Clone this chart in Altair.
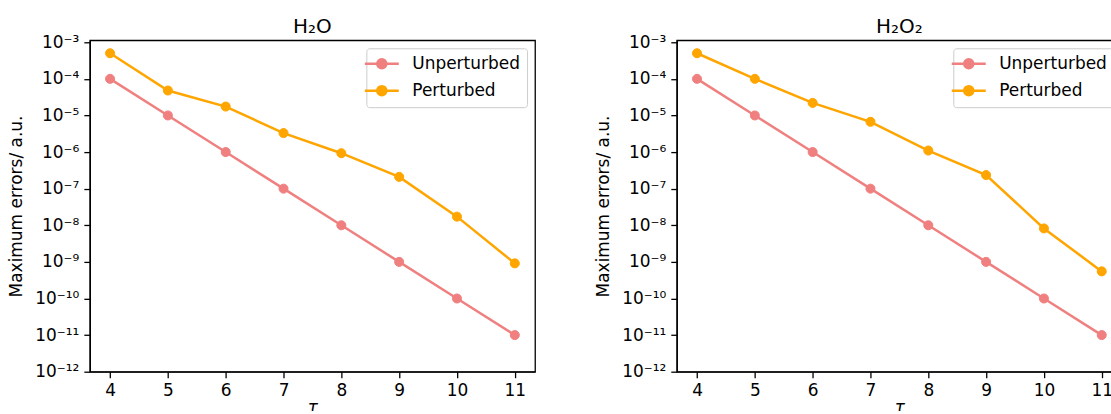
import altair as alt
import pandas as pd

# ---------------- data ----------------
tau = [4, 5, 6, 7, 8, 9, 10, 11]
h2o_unperturbed = [1e-4, 1e-5, 1e-6, 1e-7, 1e-8, 1e-9, 1e-10, 1e-11]
h2o_perturbed = [5.0e-4, 4.8e-5, 1.75e-5, 3.3e-6, 9.3e-7, 2.1e-7, 1.72e-8, 9.1e-10]
h2o2_unperturbed = [1e-4, 1e-5, 1e-6, 1e-7, 1e-8, 1e-9, 1e-10, 1e-11]
h2o2_perturbed = [5.0e-4, 1.0e-4, 2.2e-5, 6.7e-6, 1.1e-6, 2.35e-7, 8.2e-9, 5.5e-10]

series_names = ["Unperturbed", "Perturbed"]
series_colors = ["#F08080", "#FFA500"]
panel_titles = ["H\u2082O", "H\u2082O\u2082"]

y_ticks = [1e-12, 1e-11, 1e-10, 1e-9, 1e-8, 1e-7, 1e-6, 1e-5, 1e-4, 1e-3]
y_tick_labels = ["10⁻¹²", "10⁻¹¹", "10⁻¹⁰", "10⁻⁹", "10⁻⁸",
                 "10⁻⁷", "10⁻⁶", "10⁻⁵", "10⁻⁴", "10⁻³"]
x_label = "τ"
y_label = "Maximum errors/ a.u."

FONT = "DejaVu Sans"


def make_df(unp, per):
    rows = []
    for name, vals in zip(series_names, [unp, per]):
        for t, v in zip(tau, vals):
            rows.append({"tau": t, "error": v, "series": name})
    return pd.DataFrame(rows)


label_expr = "[" + ",".join("'" + s + "'" for s in y_tick_labels) + \
    "][round(log(datum.value)/LN10)+12]"

# legend handle: a 34px line with a dot (symbol size 196 -> unit = 7px)
SYMBOL = ("M-2.43,0L2.43,0M-0.66,0A0.66,0.66,0,1,0,0.66,0"
          "A0.66,0.66,0,1,0,-0.66,0Z")

scale_c = alt.Scale(domain=series_names, range=series_colors)


def legend():
    return alt.Legend(
        title=None, orient="top-right", offset=8,
        symbolType=SYMBOL, symbolSize=196, symbolStrokeWidth=2.4,
        symbolOpacity=1,
        labelFont=FONT, labelFontSize=17, labelColor="black",
        labelOffset=22, labelLimit=300, rowPadding=8, padding=7,
        strokeColor="#cccccc", fillColor="rgba(255,255,255,0.8)",
        cornerRadius=3,
    )


def panel(df, title):
    x = alt.X("tau:Q",
              scale=alt.Scale(domain=[3.65, 11.35], nice=False, zero=False),
              axis=alt.Axis(values=tau, title=x_label, titleFontStyle="italic",
                            titlePadding=1, format="d"))
    y = alt.Y("error:Q",
              scale=alt.Scale(type="log", domain=[1e-12, 1.13e-3], nice=False),
              axis=alt.Axis(values=y_ticks, labelExpr=label_expr, title=y_label,
                            minExtent=56, maxExtent=56, titlePadding=8))
    order = alt.Order("tau:Q")
    lines = alt.Chart(df).mark_line(strokeWidth=2.5).encode(
        x=x, y=y, order=order,
        stroke=alt.Stroke("series:N", scale=scale_c, sort=series_names, legend=legend()),
        detail="series:N",
    )
    points = alt.Chart(df).mark_point(filled=True, size=82, opacity=1, strokeWidth=1).encode(
        x=x, y=y,
        fill=alt.Fill("series:N", scale=scale_c, sort=series_names, legend=legend()),
        stroke=alt.Stroke("series:N", scale=scale_c, sort=series_names, legend=legend()),
    )
    return alt.layer(lines, points).properties(
        width=446, height=332,
        title=alt.TitleParams(title, font=FONT, fontSize=20, fontWeight="normal",
                              color="black", offset=-4),
    )


left = panel(make_df(h2o_unperturbed, h2o_perturbed), panel_titles[0])
right = panel(make_df(h2o2_unperturbed, h2o2_perturbed), panel_titles[1])

chart = alt.hconcat(left, right, spacing=58).resolve_scale(
    stroke="independent", fill="independent"
).resolve_legend(
    stroke="independent", fill="independent"
).properties(
    padding={"left": 7, "top": 16, "right": -12, "bottom": -6},
    background="white",
).configure_view(
    stroke="black", strokeWidth=1.3
).configure_axis(
    grid=False, labelFont=FONT, labelFontSize=17, labelColor="black",
    titleFont=FONT, titleFontSize=17, titleFontWeight="normal", titleColor="black",
    tickColor="black", tickWidth=1.3, tickSize=6, labelPadding=5,
    domainColor="black", domainWidth=1.3,
)

chart.save("out.html", embed_options={"renderer": "svg", "actions": False})
